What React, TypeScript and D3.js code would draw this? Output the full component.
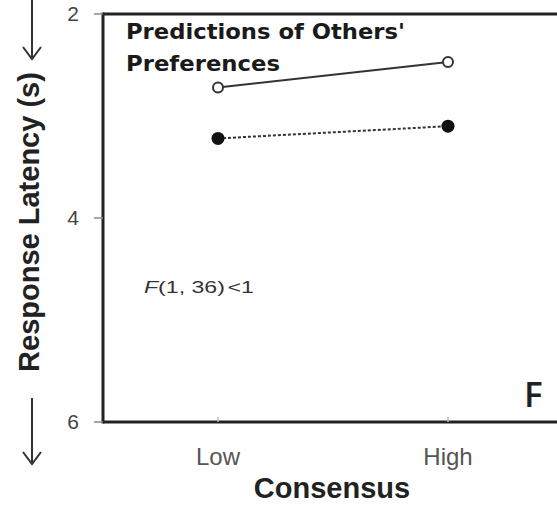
import React from "react";
import * as d3 from "d3";

const categories = ["Low", "High"];
const openSeries = [2.72, 2.47];
const filledSeries = [3.22, 3.1];
const yTicks = [2, 4, 6];

const W = 557;
const H = 510;

export default function App() {
  const x = d3.scaleLinear().domain([0.5, 2.5]).range([103, 563]);
  const y = d3.scaleLinear().domain([2, 6]).range([14, 422]);
  const line = d3
    .line<number>()
    .x((_, i) => x(i + 1))
    .y((d) => y(d));
  const font = "Liberation Sans, Arial, sans-serif";
  return (
    <svg
      width={W}
      height={H}
      style={{ position: "absolute", left: 0, top: 0, background: "#fff" }}
      fontFamily={font}
    >
      {/* axes frame */}
      <line x1={x(0.5)} x2={W} y1={y(2)} y2={y(2)} stroke="#222" strokeWidth={3} />
      <line x1={x(0.5)} x2={W} y1={y(6)} y2={y(6)} stroke="#222" strokeWidth={3} />
      <line x1={x(0.5)} x2={x(0.5)} y1={y(2) - 1.5} y2={y(6) + 1.5} stroke="#222" strokeWidth={3} />
      {/* y ticks */}
      {yTicks.map((t) => (
        <g key={t}>
          <line x1={x(0.5) - 9} x2={x(0.5)} y1={y(t)} y2={y(t)} stroke="#888" strokeWidth={1.5} />
          <text x={73} y={y(t) + 7} textAnchor="middle" fontSize={21} fill="#444">
            {t}
          </text>
        </g>
      ))}
      {/* x ticks */}
      {categories.map((c, i) => (
        <g key={c}>
          <line x1={x(i + 1)} x2={x(i + 1)} y1={y(6) - 5} y2={y(6)} stroke="#bbb" strokeWidth={1.5} />
          <text x={x(i + 1)} y={465} textAnchor="middle" fontSize={24} fill="#555">
            {c}
          </text>
        </g>
      ))}
      <text x={(x(1) + x(2)) / 2 - 1} y={498} textAnchor="middle" fontSize={29} fontWeight="bold" fill="#222">
        Consensus
      </text>
      {/* y label */}
      <text
        transform={`translate(39,222) rotate(-90)`}
        textAnchor="middle"
        fontSize={29}
        fontWeight="bold"
        fill="#222"
      >
        Response Latency (s)
      </text>
      {/* arrows */}
      <g stroke="#333" strokeWidth={2} fill="none">
        <line x1={32} x2={32} y1={0} y2={59} />
        <polyline points="23,47 32,59 41,47" />
        <line x1={32} x2={32} y1={398} y2={464} />
        <polyline points="23,452 32,464 41,452" />
      </g>
      {/* title */}
      <g fontFamily="DejaVu Sans, Verdana, sans-serif" fontWeight="bold" fill="#1a1a1a" fontSize={22}>
        <text x={126} y={39} textLength={279} lengthAdjust="spacingAndGlyphs">
          Predictions of Others'
        </text>
        <text x={126} y={71} textLength={154} lengthAdjust="spacingAndGlyphs">
          Preferences
        </text>
      </g>
      {/* stats */}
      <g transform="translate(144,293) scale(1.36,1)">
        <text x={0} y={0} fontSize={17} fill="#333">
          <tspan fontStyle="italic">F</tspan>(1, 36)
          <tspan dx={2}>&lt;1</tspan>
        </text>
      </g>
      <text x={524} y={407} fontSize={35} fontWeight="600" fill="#222" fontFamily="Open Sans, sans-serif">
        F
      </text>
      {/* series */}
      <path d={line(openSeries) || ""} fill="none" stroke="#333" strokeWidth={2} />
      <path d={line(filledSeries) || ""} fill="none" stroke="#333" strokeWidth={2} strokeDasharray="3,2" />
      {openSeries.map((v, i) => (
        <circle key={"o" + i} cx={x(i + 1)} cy={y(v)} r={5} fill="#fff" stroke="#333" strokeWidth={2} />
      ))}
      {filledSeries.map((v, i) => (
        <circle key={"f" + i} cx={x(i + 1)} cy={y(v)} r={6.5} fill="#111" />
      ))}
    </svg>
  );
}
